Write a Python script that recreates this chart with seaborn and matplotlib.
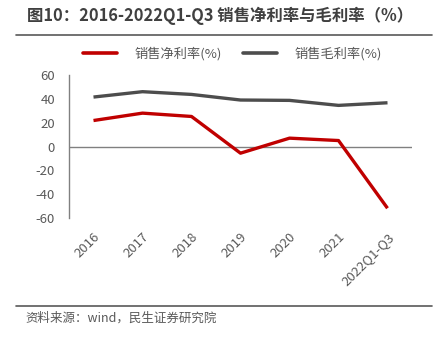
import matplotlib
matplotlib.use("Agg")
import matplotlib.pyplot as plt
import seaborn as sns
import pandas as pd
from matplotlib.lines import Line2D

categories = ["2016", "2017", "2018", "2019", "2020", "2021", "2022Q1-Q3"]
net_margin = [21.8, 28.0, 25.2, -5.6, 7.0, 5.0, -51.8]
gross_margin = [41.5, 46.0, 43.7, 39.0, 38.7, 34.5, 36.7]
series_names = ["销售净利率(%)", "销售毛利率(%)"]
title = "图10：2016-2022Q1-Q3 销售净利率与毛利率（%）"
source = "资料来源：wind，民生证券研究院"

sns.set_theme(style="white")
plt.rcParams['font.family'] = ['Noto Sans CJK SC', 'DejaVu Sans']
plt.rcParams['axes.unicode_minus'] = False

df = pd.DataFrame({
    "x": list(range(len(categories))) * 2,
    "value": net_margin + gross_margin,
    "series": [series_names[0]] * len(categories) + [series_names[1]] * len(categories),
})

fig = plt.figure(figsize=(4.47, 3.45), dpi=100)
W, H = 447, 345
ax = fig.add_axes([69 / W, 1 - 218 / H, (412 - 69) / W, (218 - 75) / H])

palette = {series_names[0]: "#C00000", series_names[1]: "#4D4D4D"}
sns.lineplot(data=df, x="x", y="value", hue="series", palette=palette,
             linewidth=2.4, ax=ax, legend=False, solid_capstyle="butt")

ax.set_xlim(-0.5, 6.5)
ax.set_ylim(-60, 60)
ax.set_yticks([-60, -40, -20, 0, 20, 40, 60])
ax.set_xticks(range(len(categories)))
ax.set_xticklabels(categories, rotation=45, ha="right", rotation_mode="anchor")
ax.tick_params(axis="both", labelsize=9.5, colors="#595959", length=0)
ax.tick_params(axis="y", pad=10)
ax.tick_params(axis="x", pad=9)
for s in ["top", "right", "bottom"]:
    ax.spines[s].set_visible(False)
ax.spines["left"].set_color("#808080")
ax.spines["left"].set_linewidth(1.0)
ax.axhline(0, color="#808080", linewidth=1.0, zorder=1)
ax.set_xlabel("")
ax.set_ylabel("")

# title
fig.text(27 / W, 1 - 16 / H, title, fontsize=11.8, fontweight="bold",
         color="#404040", va="center", ha="left")
fig.add_artist(Line2D([16 / W, 432 / W], [1 - 35 / H, 1 - 35 / H],
                      color="#595959", linewidth=1.2))
# legend
handles = [Line2D([0], [0], color=palette[n], linewidth=2.6) for n in series_names]
fig.legend(handles, series_names, loc="center", bbox_to_anchor=(0.52, 1 - 54 / H),
           ncol=2, frameon=False, fontsize=9.5, handlelength=2.6,
           columnspacing=1.6, handletextpad=1.3, labelcolor="#595959")
# bottom line and source
fig.add_artist(Line2D([16 / W, 432 / W], [1 - 306 / H, 1 - 306 / H],
                      color="#595959", linewidth=1.2))
fig.text(25 / W, 1 - 318 / H, source, fontsize=9, color="#595959",
         va="center", ha="left")

fig.savefig("out.png", dpi=100)
